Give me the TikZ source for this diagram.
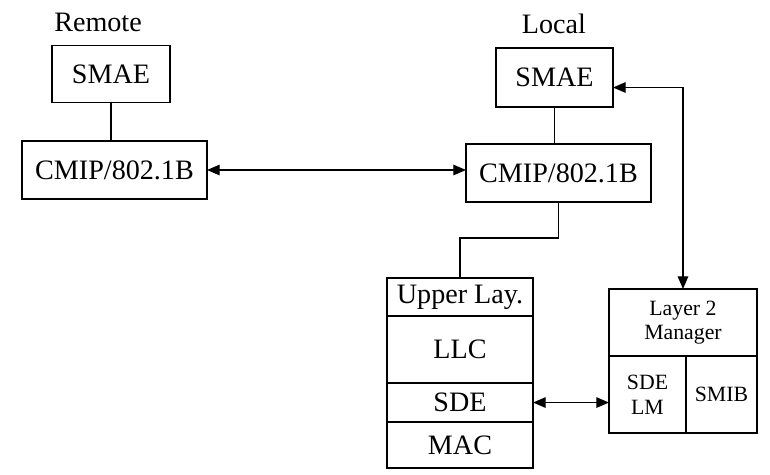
\documentclass[tikz,border=0pt]{standalone}
\usepackage{fontspec}
\setmainfont{Liberation Serif}
\usetikzlibrary{positioning,arrows.meta}
\tikzset{
  box/.style={draw, line width=0.9pt, inner sep=0pt, outer sep=0pt, font=\fontsize{20}{23}\selectfont},
  small/.style={font=\fontsize{15.5}{17.5}\selectfont, align=center},
  label/.style={font=\fontsize{20}{23}\selectfont},
}
\begin{document}
\begin{tikzpicture}[x=0.025cm, y=-0.025cm, line width=0.9pt, >={Triangle[length=9pt,width=7.5pt]}, node distance=0pt]
\useasboundingbox (0,0) rectangle (770,474);
% remote side
\node[label] (remote) at (98,22) {Remote};
\node[box, minimum width=2.95cm, minimum height=1.425cm] (rsmae) at (111,74) {SMAE};
\node[box, minimum width=4.625cm, minimum height=1.45cm] (rcmip) at (114.5,170) {CMIP/802.1B};
% local side
\node[label] (local) at (554,24) {Local};
\node[box, minimum width=2.925cm, minimum height=1.475cm] (lsmae) at (554.5,77.5) {SMAE};
\node[box, minimum width=4.625cm, minimum height=1.45cm] (lcmip) at (558.5,173) {CMIP/802.1B};
% protocol stack
\node[box, minimum width=3.65cm, minimum height=0.95cm] (upper) at (460,297) {Upper Lay.};
\node[box, minimum width=3.65cm, minimum height=1.675cm, below=of upper] (llc) {LLC};
\node[box, minimum width=3.65cm, minimum height=0.975cm, below=of llc] (sde) {SDE};
\node[box, minimum width=3.65cm, minimum height=1.15cm, below=of sde] (mac) {MAC};
% layer 2 manager
\node[box, small, minimum width=3.7cm, minimum height=1.675cm] (mgr) at (683,322.5) {Layer 2\\Manager};
\node[box, small, minimum width=1.925cm, minimum height=1.925cm, anchor=north west] (sdelm) at (mgr.south west) {SDE\\LM};
\node[box, small, minimum width=1.775cm, minimum height=1.925cm, anchor=north west] (smib) at (sdelm.north east) {SMIB};
% connectors
\draw (rsmae.south) -- (rsmae.south |- rcmip.north);
\draw[<->] (rcmip.east) -- (rcmip.east -| lcmip.west);
\draw (lsmae.south) -- (lsmae.south |- lcmip.north);
\draw (lcmip.south) -- ++(0,36) -| (upper.north);
\draw[<->] ([yshift=-0.25cm]lsmae.east) -| (mgr.north);
\draw[<->] (sde.east) -- (sde.east -| sdelm.west);
\end{tikzpicture}
\end{document}
